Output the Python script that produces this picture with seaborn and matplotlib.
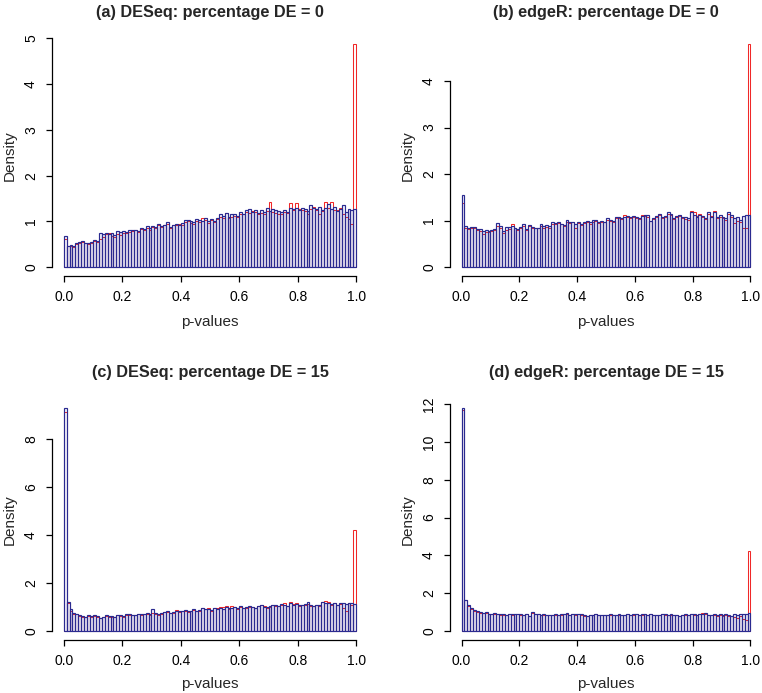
import matplotlib
matplotlib.use('Agg')
import matplotlib.pyplot as plt
import numpy as np
import pandas as pd
import seaborn as sns

# density per bin (100 bins of width 0.01 on [0, 1])
deseq_de0_red = [
    0.62, 0.45, 0.46, 0.43, 0.50, 0.53, 0.55, 0.52, 0.50, 0.53,
    0.58, 0.55, 0.62, 0.65, 0.72, 0.75, 0.68, 0.66, 0.72, 0.70,
    0.75, 0.74, 0.76, 0.78, 0.80, 0.76, 0.83, 0.80, 0.85, 0.82,
    0.87, 0.85, 0.92, 0.88, 0.92, 0.95, 0.86, 0.93, 0.92, 0.95,
    0.93, 0.98, 1.00, 0.97, 0.95, 1.00, 0.98, 1.08, 1.02, 0.97,
    1.02, 0.98, 1.05, 1.10, 1.08, 1.18, 1.08, 1.10, 1.12, 1.10,
    1.15, 1.15, 1.20, 1.18, 1.22, 1.20, 1.17, 1.18, 1.17, 1.22,
    1.42, 1.20, 1.18, 1.15, 1.17, 1.20, 1.18, 1.40, 1.25, 1.40,
    1.28, 1.25, 1.22, 1.15, 1.28, 1.32, 1.25, 1.15, 1.22, 1.42,
    1.30, 1.43, 1.25, 1.25, 1.30, 1.15, 1.10, 1.05, 0.95, 4.88,
]
deseq_de0_blue = [
    0.68, 0.47, 0.48, 0.45, 0.52, 0.55, 0.57, 0.53, 0.52, 0.55,
    0.60, 0.58, 0.75, 0.72, 0.75, 0.73, 0.74, 0.70, 0.78, 0.76,
    0.78, 0.77, 0.80, 0.80, 0.82, 0.78, 0.85, 0.84, 0.90, 0.85,
    0.90, 0.88, 0.95, 0.90, 0.93, 0.98, 0.88, 0.92, 0.95, 0.93,
    0.97, 1.02, 1.03, 1.00, 0.98, 1.05, 1.03, 1.00, 1.07, 1.00,
    1.05, 1.00, 1.08, 1.15, 1.12, 1.18, 1.10, 1.15, 1.15, 1.12,
    1.20, 1.17, 1.25, 1.28, 1.20, 1.25, 1.18, 1.25, 1.20, 1.30,
    1.23, 1.28, 1.25, 1.22, 1.20, 1.25, 1.20, 1.30, 1.28, 1.30,
    1.25, 1.30, 1.27, 1.22, 1.35, 1.30, 1.28, 1.32, 1.25, 1.30,
    1.37, 1.28, 1.32, 1.22, 1.28, 1.35, 1.20, 1.28, 1.25, 1.27,
]
edger_de0_red = [
    1.38, 0.85, 0.82, 0.83, 0.85, 0.80, 0.78, 0.72, 0.76, 0.75,
    0.78, 0.80, 0.88, 0.85, 0.73, 0.80, 0.82, 0.92, 0.83, 0.80,
    0.85, 0.88, 0.80, 0.88, 0.85, 0.84, 0.83, 0.88, 0.85, 0.87,
    0.85, 0.92, 0.93, 0.95, 0.92, 0.88, 0.97, 0.95, 0.97, 0.85,
    0.95, 0.90, 0.95, 0.97, 0.92, 0.98, 1.00, 0.95, 0.98, 0.97,
    1.02, 1.00, 0.98, 1.05, 1.05, 1.03, 1.12, 1.08, 1.06, 1.08,
    1.05, 1.03, 1.12, 1.10, 1.08, 1.00, 1.03, 1.08, 1.12, 1.05,
    1.08, 1.15, 1.13, 1.03, 1.08, 1.10, 1.05, 1.03, 1.02, 1.20,
    1.18, 1.10, 1.15, 1.08, 1.03, 1.15, 1.10, 1.20, 1.05, 1.08,
    1.05, 1.02, 1.15, 1.08, 0.95, 1.00, 0.97, 0.85, 0.85, 4.80,
]
edger_de0_blue = [
    1.56, 0.88, 0.85, 0.86, 0.87, 0.82, 0.82, 0.78, 0.80, 0.78,
    0.80, 0.82, 0.94, 0.88, 0.78, 0.87, 0.86, 0.88, 0.85, 0.82,
    0.86, 0.93, 0.82, 0.90, 0.87, 0.85, 0.84, 0.92, 0.88, 0.91,
    0.88, 0.97, 0.95, 0.98, 0.93, 0.90, 1.02, 0.97, 0.98, 0.93,
    0.98, 0.93, 0.97, 1.00, 0.97, 1.02, 1.02, 0.98, 1.00, 0.98,
    1.05, 1.02, 1.00, 1.08, 1.07, 1.05, 1.08, 1.10, 1.08, 1.10,
    1.07, 1.05, 1.10, 1.13, 1.12, 1.00, 1.05, 1.10, 1.15, 1.07,
    1.10, 1.18, 1.15, 1.05, 1.10, 1.12, 1.08, 1.07, 1.05, 1.18,
    1.12, 1.08, 1.13, 1.10, 1.05, 1.18, 1.08, 1.18, 1.07, 1.12,
    1.08, 1.05, 1.18, 1.12, 1.05, 1.07, 1.02, 1.10, 1.12, 1.13,
]
deseq_de15_red = [
    9.15, 1.18, 0.85, 0.72, 0.70, 0.63, 0.60, 0.58, 0.62, 0.60,
    0.62, 0.60, 0.55, 0.58, 0.62, 0.60, 0.60, 0.58, 0.65, 0.62,
    0.60, 0.68, 0.68, 0.65, 0.65, 0.70, 0.68, 0.70, 0.72, 0.68,
    0.75, 0.72, 0.68, 0.73, 0.78, 0.80, 0.75, 0.76, 0.88, 0.80,
    0.83, 0.85, 0.80, 0.82, 0.88, 0.83, 0.85, 0.98, 0.90, 0.95,
    0.85, 0.98, 0.95, 1.02, 1.00, 1.05, 0.92, 1.05, 1.00, 0.93,
    1.02, 0.95, 0.98, 1.02, 1.00, 0.95, 1.03, 1.10, 1.05, 0.98,
    1.02, 1.08, 1.05, 1.03, 1.10, 1.15, 1.03, 1.20, 1.12, 1.18,
    1.05, 1.08, 1.10, 1.12, 1.05, 1.03, 1.08, 1.05, 1.20, 1.25,
    1.22, 1.10, 1.15, 1.08, 1.12, 0.95, 0.85, 1.15, 1.10, 4.22,
]
deseq_de15_blue = [
    9.30, 1.22, 0.90, 0.75, 0.72, 0.65, 0.62, 0.60, 0.65, 0.62,
    0.65, 0.62, 0.55, 0.60, 0.65, 0.62, 0.62, 0.60, 0.68, 0.65,
    0.62, 0.72, 0.70, 0.68, 0.66, 0.72, 0.70, 0.72, 0.75, 0.70,
    0.92, 0.75, 0.70, 0.75, 0.80, 0.82, 0.76, 0.78, 0.85, 0.82,
    0.85, 0.88, 0.82, 0.85, 0.90, 0.85, 0.88, 0.95, 0.90, 0.92,
    0.88, 0.95, 0.92, 0.95, 0.90, 1.00, 0.95, 0.98, 1.02, 0.95,
    1.05, 0.98, 1.00, 1.05, 1.02, 0.98, 1.05, 1.08, 1.02, 1.00,
    1.05, 1.10, 1.08, 1.05, 1.12, 1.08, 1.05, 1.15, 1.10, 1.12,
    1.08, 1.10, 1.12, 1.20, 1.08, 1.05, 1.10, 1.08, 1.22, 1.18,
    1.15, 1.12, 1.18, 1.10, 1.15, 1.15, 1.12, 1.18, 1.15, 1.12,
]
edger_de15_red = [
    11.70, 1.62, 1.35, 1.18, 1.08, 1.02, 0.98, 0.95, 0.98, 0.90,
    0.88, 0.92, 0.90, 0.85, 0.87, 0.85, 0.88, 0.87, 0.90, 0.88,
    0.85, 0.83, 0.88, 0.78, 0.95, 0.90, 0.88, 0.83, 0.86, 0.83,
    0.85, 0.83, 0.86, 0.83, 0.85, 0.88, 0.92, 0.83, 0.90, 0.86,
    0.88, 0.86, 0.82, 0.80, 0.85, 0.83, 0.90, 0.83, 0.83, 0.85,
    0.83, 0.86, 0.85, 0.83, 0.85, 0.85, 0.83, 0.90, 0.83, 0.86,
    0.88, 0.83, 0.86, 0.88, 0.83, 0.90, 0.83, 0.85, 0.83, 0.88,
    0.85, 0.83, 0.86, 0.83, 0.85, 0.80, 0.83, 0.86, 0.83, 0.88,
    0.86, 0.83, 0.92, 0.95, 0.92, 0.85, 0.83, 0.85, 0.82, 0.85,
    0.80, 0.85, 0.80, 0.78, 0.75, 0.70, 0.80, 0.62, 0.60, 4.25,
]
edger_de15_blue = [
    11.80, 1.65, 1.38, 1.20, 1.10, 1.05, 1.00, 0.95, 1.00, 0.92,
    0.90, 0.95, 0.92, 0.88, 0.88, 0.87, 0.90, 0.88, 0.92, 0.90,
    0.88, 0.85, 0.90, 0.80, 1.00, 0.92, 0.90, 0.85, 0.88, 0.85,
    0.86, 0.85, 0.88, 0.85, 0.88, 0.90, 0.95, 0.85, 0.92, 0.88,
    0.90, 0.88, 0.85, 0.82, 0.86, 0.85, 0.92, 0.85, 0.85, 0.87,
    0.85, 0.88, 0.86, 0.85, 0.88, 0.87, 0.85, 0.92, 0.85, 0.88,
    0.90, 0.85, 0.88, 0.90, 0.85, 0.92, 0.85, 0.87, 0.85, 0.90,
    0.88, 0.85, 0.88, 0.85, 0.87, 0.82, 0.85, 0.88, 0.85, 0.90,
    0.88, 0.85, 0.90, 0.88, 0.95, 0.87, 0.85, 0.88, 0.85, 0.90,
    0.85, 0.88, 0.85, 0.82, 0.88, 0.85, 0.90, 0.92, 0.88, 0.95,
]

titles = [
    '(a) DESeq: percentage DE = 0',
    '(b) edgeR: percentage DE = 0',
    '(c) DESeq: percentage DE = 15',
    '(d) edgeR: percentage DE = 15',
]
y_ticks = [[0, 1, 2, 3, 4, 5], [0, 1, 2, 3, 4], [0, 2, 4, 6, 8], [0, 2, 4, 6, 8, 10, 12]]
x_ticks = [0.0, 0.2, 0.4, 0.6, 0.8, 1.0]

W, H = 762, 693
n_bins = 100
bin_mid = (np.arange(n_bins) + 0.5) / n_bins

sns.set_style('ticks')
plt.rcParams['font.family'] = ['Liberation Sans', 'DejaVu Sans']

fig = plt.figure(figsize=(W / 100, H / 100), dpi=100)

# pixel boxes of the plot regions: left, top, right, bottom
boxes = [(52, 35, 368, 276), (450, 35, 762, 276), (52, 399, 368, 640), (450, 399, 762, 640)]
title_y = [13, 13, 372, 372]
xlabel_y = [322, 322, 684, 684]
series = [
    (deseq_de0_red, deseq_de0_blue),
    (edger_de0_red, edger_de0_blue),
    (deseq_de15_red, deseq_de15_blue),
    (edger_de15_red, edger_de15_blue),
]

for i, (red, blue) in enumerate(series):
    l, t, r, b = boxes[i]
    ax = fig.add_axes([l / W, 1 - b / H, (r - l) / W, (b - t) / H])

    df = pd.DataFrame({'p': bin_mid, 'red': red, 'blue': blue})
    sns.histplot(data=df, x='p', weights='red', bins=n_bins, binrange=(0, 1), stat='count',
                 fill=False, color='#f02828', linewidth=0.75, ax=ax)
    sns.histplot(data=df, x='p', weights='blue', bins=n_bins, binrange=(0, 1), stat='count',
                 fill=True, facecolor=(0.4, 0.4, 0.9, 0.06), edgecolor='#2a2a90',
                 linewidth=0.85, ax=ax)

    ymax = max(max(red), max(blue))
    ax.set_xlim(-0.04, 1.04)
    ax.set_ylim(-0.04 * ymax, 1.04 * ymax)
    ax.set_xticks(x_ticks)
    ax.set_xticklabels([f'{v:.1f}' for v in x_ticks])
    ax.set_yticks(y_ticks[i])
    ax.set_yticklabels([str(v) for v in y_ticks[i]], rotation=90, va='center')
    ax.set_xlabel('')
    ax.set_ylabel('')

    for side in ['top', 'right']:
        ax.spines[side].set_visible(False)
    for side in ['left', 'bottom']:
        ax.spines[side].set_color('black')
        ax.spines[side].set_linewidth(0.9)
    ax.spines['bottom'].set_bounds(0, 1)
    ax.spines['left'].set_bounds(y_ticks[i][0], y_ticks[i][-1])
    ax.tick_params(direction='out', length=4.5, width=0.9, color='black',
                   labelsize=10, pad=5.5, labelcolor='black')

    cx = (l + r) / 2 / W
    fig.text(cx, 1 - title_y[i] / H, titles[i], ha='center', va='center',
             fontsize=11.7, fontweight='bold')
    fig.text(cx, 1 - xlabel_y[i] / H, 'p-values', ha='center', va='center', fontsize=11)
    fig.text((l - 42) / W, 1 - (t + b) / 2 / H, 'Density', ha='center', va='center',
             rotation=90, fontsize=11)

fig.savefig('out.png', dpi=100)
